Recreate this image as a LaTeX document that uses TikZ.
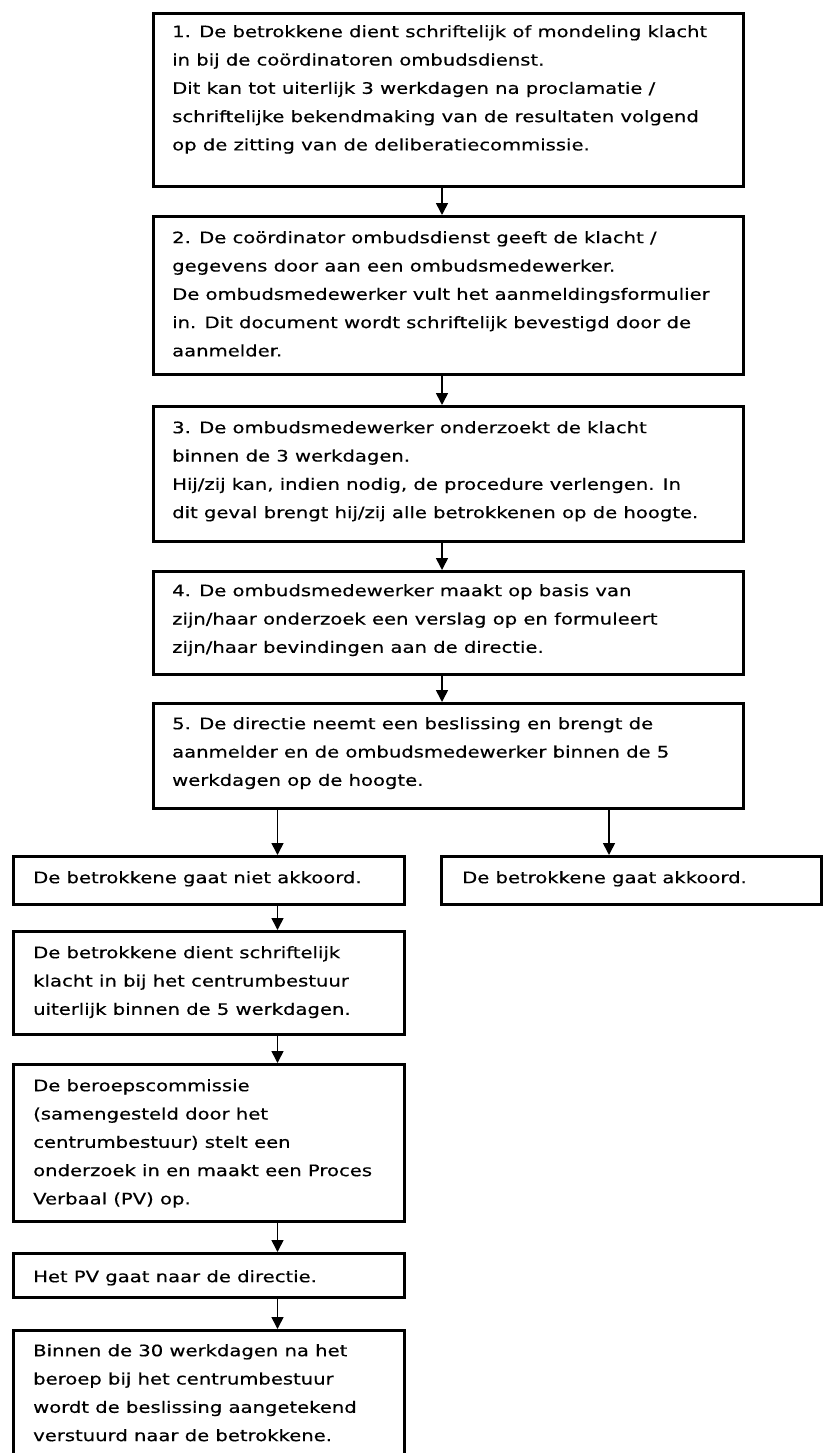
\documentclass[tikz,border=0pt]{standalone}
\usepackage{fontspec}
\newfontfamily\vfont[FakeStretch=1.24,FakeBold=0.4]{DejaVu Sans}
\usetikzlibrary{arrows.meta}
\begin{document}
\begin{tikzpicture}[x=1pt,y=-1pt,
  box/.style={draw, line width=3pt, rectangle, inner sep=0pt, anchor=north west},
  txt/.style={anchor=north west, inner sep=0pt, align=left,
    font={\vfont\fontsize{15.8pt}{28.3pt}\selectfont},
    execute at begin node={\rule{0pt}{14pt}}},
  conn/.style={line width=1.6pt, -{Triangle[width=12pt,length=12pt]}}
]
\clip (0,0) rectangle (823,1453);
\fill[white] (0,0) rectangle (823,1453);

% main column boxes
\node[box, minimum width=589.5pt, minimum height=173pt] (b1) at (152,12) {};
\node[box, minimum width=589.5pt, minimum height=158pt] (b2) at (152,215) {};
\node[box, minimum width=589.5pt, minimum height=135pt] (b3) at (152,405) {};
\node[box, minimum width=589.5pt, minimum height=103pt] (b4) at (152,570) {};
\node[box, minimum width=589.5pt, minimum height=105pt] (b5) at (152,702) {};

% bottom boxes
\node[box, minimum width=391pt, minimum height=48pt] (n1) at (12,855) {};
\node[box, minimum width=380pt, minimum height=48pt] (ak) at (440,855) {};
\node[box, minimum width=391pt, minimum height=103pt] (c1) at (12,930) {};
\node[box, minimum width=391pt, minimum height=157pt] (c2) at (12,1063) {};
\node[box, minimum width=391pt, minimum height=44pt] (c3) at (12,1252) {};
\node[box, minimum width=391pt, minimum height=150pt] (c4) at (12,1329) {};

% texts (first baseline = y + 14)
\node[txt] (t1) at (172,25) {1. De betrokkene dient schriftelijk of mondeling klacht\\
in bij de coördinatoren ombudsdienst.\\
Dit kan tot uiterlijk 3 werkdagen na proclamatie /\\
schriftelijke bekendmaking van de resultaten volgend\\
op de zitting van de deliberatiecommissie.};
\node[txt] (t2) at (172,231) {2. De coördinator ombudsdienst geeft de klacht /\\
gegevens door aan een ombudsmedewerker.\\
De ombudsmedewerker vult het aanmeldingsformulier\\
in. Dit document wordt schriftelijk bevestigd door de\\
aanmelder.};
\node[txt] (t3) at (172,421) {3. De ombudsmedewerker onderzoekt de klacht\\
binnen de 3 werkdagen.\\
Hij/zij kan, indien nodig, de procedure verlengen. In\\
dit geval brengt hij/zij alle betrokkenen op de hoogte.};
\node[txt] (t4) at (172,584) {4. De ombudsmedewerker maakt op basis van\\
zijn/haar onderzoek een verslag op en formuleert\\
zijn/haar bevindingen aan de directie.};
\node[txt] (t5) at (172,717) {5. De directie neemt een beslissing en brengt de\\
aanmelder en de ombudsmedewerker binnen de 5\\
werkdagen op de hoogte.};
\node[txt] (tn1) at (33,869) {De betrokkene gaat niet akkoord.};
\node[txt] (tak) at (462,869) {De betrokkene gaat akkoord.};
\node[txt] (tc1) at (33,946) {De betrokkene dient schriftelijk\\
klacht in bij het centrumbestuur\\
uiterlijk binnen de 5 werkdagen.};
\node[txt] (tc2) at (33,1079) {De beroepscommissie\\
(samengesteld door het\\
centrumbestuur) stelt een\\
onderzoek in en maakt een Proces\\
Verbaal (PV) op.};
\node[txt] (tc3) at (33,1268) {Het PV gaat naar de directie.};
\node[txt] (tc4) at (33,1344) {Binnen de 30 werkdagen na het\\
beroep bij het centrumbestuur\\
wordt de beslissing aangetekend\\
verstuurd naar de betrokkene.};

% connector columns
\coordinate (ax) at (442,0);
\coordinate (lx) at (277.5,0);
\coordinate (rx) at (609,0);

\draw[conn] (b1.south -| ax) -- (b2.north -| ax);
\draw[conn] (b2.south -| ax) -- (b3.north -| ax);
\draw[conn] (b3.south -| ax) -- (b4.north -| ax);
\draw[conn] (b4.south -| ax) -- (b5.north -| ax);
\draw[conn] (b5.south -| lx) -- (n1.north -| lx);
\draw[conn] (b5.south -| rx) -- (ak.north -| rx);
\draw[conn] (n1.south -| lx) -- (c1.north -| lx);
\draw[conn] (c1.south -| lx) -- (c2.north -| lx);
\draw[conn] (c2.south -| lx) -- (c3.north -| lx);
\draw[conn] (c3.south -| lx) -- (c4.north -| lx);
\end{tikzpicture}
\end{document}
